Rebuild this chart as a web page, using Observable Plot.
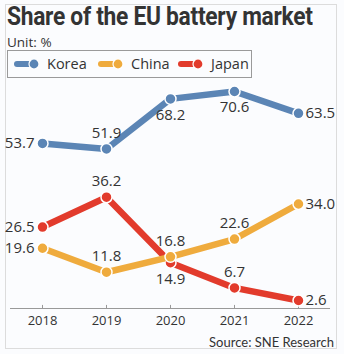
<!DOCTYPE html>
<html><head><meta charset="utf-8">
<script src="https://cdn.jsdelivr.net/npm/d3@7"></script>
<script src="https://cdn.jsdelivr.net/npm/@observablehq/plot@0.6"></script>
<style>
body{margin:0;background:#fff;}
#wrap{position:relative;width:344px;height:354px;background:#fbfcfe;overflow:hidden;font-family:"Open Sans",sans-serif;color:#333;}
#frame{position:absolute;left:5px;top:4px;width:332px;height:345px;border:1px solid #dcdcdc;box-sizing:border-box;}
#title{position:absolute;left:7px;top:2px;font-family:Roboto,sans-serif;font-weight:700;font-size:25px;letter-spacing:-0.3px;white-space:nowrap;color:#333;transform:scaleX(0.91);transform-origin:left top;}
#unit{position:absolute;left:7px;top:33px;font-size:13.5px;}
#legend{position:absolute;left:7px;top:50px;width:245px;height:28px;border:1px solid #9a9a9a;box-sizing:border-box;}
.li{position:absolute;top:3px;font-size:14.5px;line-height:20px;display:flex;align-items:center;}
.li svg{margin-right:7px;}
#chart{position:absolute;left:0;top:80px;}
#source{position:absolute;right:10px;top:334px;font-size:13px;font-family:Lato,sans-serif;}
</style></head>
<body>
<div id="wrap">
<div id="frame"></div>
<div id="title">Share of the EU battery market</div>
<div id="unit">Unit: %</div>
<div id="legend"></div>
<div id="chart"></div>
<div id="source">Source: SNE Research</div>
</div>
<script>
const years = [2018, 2019, 2020, 2021, 2022];
const seriesNames = ["Korea", "China", "Japan"];
const korea = [53.7, 51.9, 68.2, 70.6, 63.5];
const china = [19.6, 11.8, 16.8, 22.6, 34.0];
const japan = [26.5, 36.2, 14.9, 6.7, 2.6];
// label placement relative to each point
const koreaLabelPos = ["left", "above", "below", "below", "right"];
const chinaLabelPos = ["left", "above", "above", "above", "right"];
const japanLabelPos = ["left", "above", "below", "above", "right"];
const colors = {Korea: "#5b85b5", China: "#efab3d", Japan: "#e23b2c"};

const values = {Korea: korea, China: china, Japan: japan};
const placements = {Korea: koreaLabelPos, China: chinaLabelPos, Japan: japanLabelPos};
const rows = [];
for (const s of seriesNames) years.forEach((yr, i) => rows.push({series: s, year: yr, value: values[s][i], pos: placements[s][i]}));

// legend
const legend = document.getElementById("legend");
const legendX = [6, 90, 170];
seriesNames.forEach((s, i) => {
  const d = document.createElement("div");
  d.className = "li";
  d.style.left = legendX[i] + "px";
  d.innerHTML = `<svg width="26" height="12"><line x1="3" x2="16" y1="6" y2="6" stroke="${colors[s]}" stroke-width="6" stroke-linecap="round"/><circle cx="20" cy="6" r="5" fill="${colors[s]}" stroke="#fff" stroke-width="1.2"/></svg>${s}`;
  legend.appendChild(d);
});

const drawOrder = ["Korea", "Japan", "China"];
const marks = [
  Plot.ruleY([0], {stroke: "#999", strokeWidth: 1}),
  Plot.ruleX(years, {y1: 0, y2: 1, stroke: "#999"}),
  Plot.axisX({ticks: years, tickSize: 0, tickPadding: 7, tickFormat: d => String(d), fontSize: 13, fill: "#333", label: null})
];
for (const s of drawOrder) {
  const d = rows.filter(r => r.series === s);
  marks.push(Plot.line(d, {x: "year", y: "value", stroke: colors[s], strokeWidth: 6.5}));
  marks.push(Plot.dot(d, {x: "year", y: "value", r: 5.5, fill: colors[s], stroke: "#fff", strokeWidth: 1.5}));
}
const txt = {text: d => d.value.toFixed(1), fontSize: 15, fill: "#333", x: "year", y: "value"};
marks.push(Plot.text(rows.filter(r => r.pos === "left"), {...txt, textAnchor: "end", dx: -8}));
marks.push(Plot.text(rows.filter(r => r.pos === "right"), {...txt, textAnchor: "start", dx: 7}));
marks.push(Plot.text(rows.filter(r => r.pos === "above"), {...txt, dy: -16}));
marks.push(Plot.text(rows.filter(r => r.pos === "below"), {...txt, dy: 16}));

const chart = Plot.plot({
  width: 344,
  height: 252,
  marginTop: 11,
  marginBottom: 24,
  marginLeft: 10,
  marginRight: 14,
  style: {background: "transparent", fontFamily: "'Open Sans', sans-serif", overflow: "visible"},
  x: {domain: [2017.5, 2022.5]},
  y: {domain: [0, 70.6], axis: null},
  marks
});
document.getElementById("chart").appendChild(chart);
</script>
</body></html>
